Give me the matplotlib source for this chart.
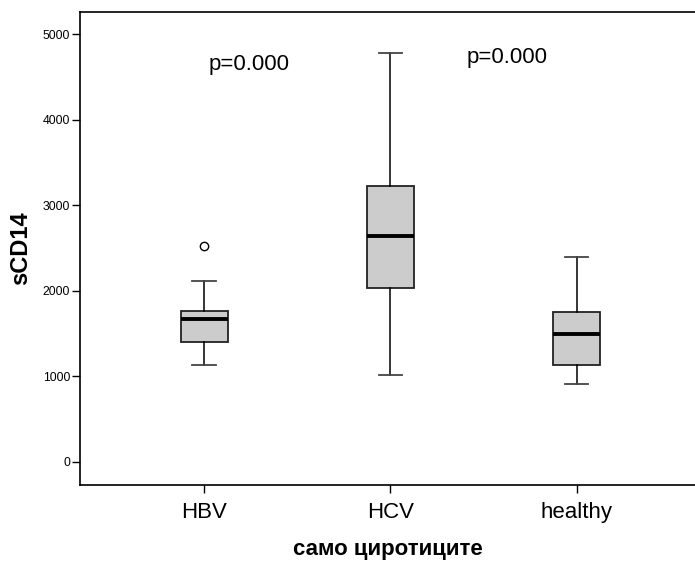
import matplotlib
matplotlib.use("Agg")
import matplotlib.pyplot as plt

plt.rcParams['font.family'] = ['Liberation Sans', 'DejaVu Sans']

# sCD14 per group (cirrhotic patients only)
groups = ["HBV", "HCV", "healthy"]
q1 = [1396, 2035, 1131]
medians = [1665, 2643, 1490]
q3 = [1766, 3225, 1754]
whisker_lo = [1134, 1010, 909]
whisker_hi = [2113, 4784, 2391]
outliers = [[2526], [], []]

# p-values drawn above the pairs
p_labels = ["p=0.000", "p=0.000"]
p_x = [0.24, 1.625]
p_y = [4650, 4735]

stats = []
for i, g in enumerate(groups):
    stats.append({
        'label': g,
        'q1': q1[i], 'med': medians[i], 'q3': q3[i],
        'whislo': whisker_lo[i], 'whishi': whisker_hi[i],
        'fliers': outliers[i],
    })

fig = plt.figure(figsize=(6.95, 5.65), dpi=100)
ax = fig.add_axes([80/695, 80/565, 1 - 80/695, 473/565])

ax.bxp(stats, positions=range(len(groups)), widths=0.252, patch_artist=True,
       boxprops=dict(facecolor='#cccccc', edgecolor='#222222', linewidth=1.3),
       medianprops=dict(color='black', linewidth=2.8),
       whiskerprops=dict(color='black', linewidth=1.1),
       capprops=dict(color='#444444', linewidth=1.3),
       capwidths=0.126,
       flierprops=dict(marker='o', markerfacecolor='white', markeredgecolor='black',
                       markersize=6, markeredgewidth=1.0))

for txt, x, y in zip(p_labels, p_x, p_y):
    ax.text(x, y, txt, ha='center', va='center', fontsize=16)

ax.set_xlim(-0.667, 2.635)
ax.set_ylim(-272, 5263)
ax.set_yticks([0, 1000, 2000, 3000, 4000, 5000])
ax.tick_params(axis='y', labelsize=8.8, length=6, width=1.0, pad=1)
ax.tick_params(axis='x', labelsize=16, length=6, width=1.0, pad=6)
ax.set_xticks(range(len(groups)))
ax.set_xticklabels(groups)

ax.spines['right'].set_visible(False)
for s in ['left', 'top', 'bottom']:
    ax.spines[s].set_linewidth(1.2)

ax.set_xlabel("само циротиците", fontsize=16, fontweight='bold', labelpad=12)
ax.set_ylabel("sCD14", fontsize=17, fontweight='bold')
ax.yaxis.set_label_coords(-0.078, 0.5)

fig.savefig("out.png", dpi=100)
